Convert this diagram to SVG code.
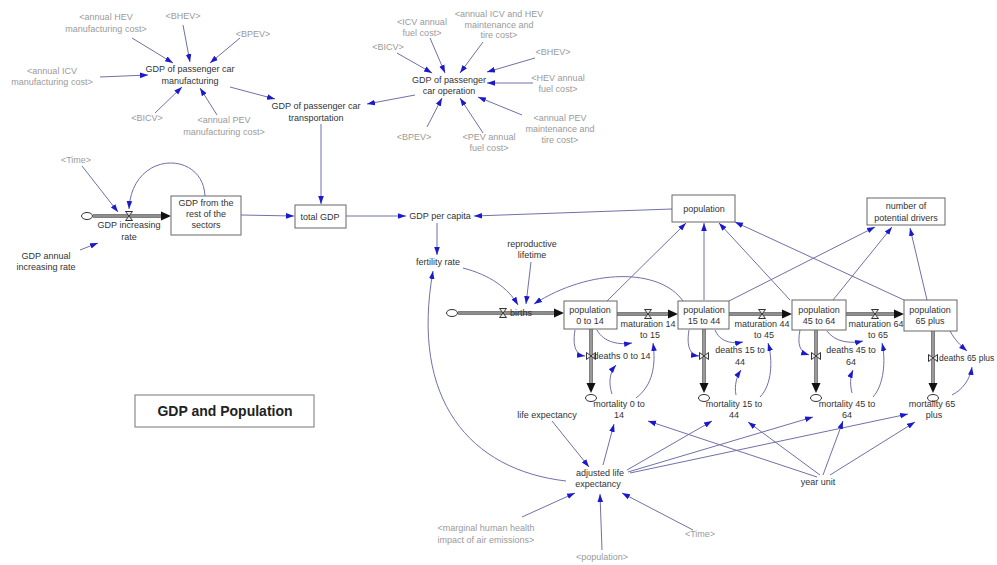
<svg xmlns="http://www.w3.org/2000/svg" width="997" height="565" viewBox="0 0 997 565">
<style>
text{font-family:"Liberation Sans","Open Sans",Arial,sans-serif;font-size:9px;fill:#333;text-anchor:middle}
.g{fill:#9a9a9a}
.s{text-anchor:start}
.c{fill:none;stroke:#7070a8;stroke-width:1;marker-end:url(#a)}
.stock{fill:#fff;stroke:#666;stroke-width:1}
.po{fill:none;stroke:#555;stroke-width:3.5}
.pi{fill:none;stroke:#c8c8c8;stroke-width:1.2}
.fa{fill:#111}
.title{font-size:14px;font-weight:bold;fill:#222}
</style>
<defs>
<marker id="a" viewBox="0 0 10 10" refX="10" refY="5" markerWidth="8" markerHeight="8" markerUnits="userSpaceOnUse" orient="auto"><path d="M0,1.5 L10,5 L0,8.5 Z" fill="#1a1acc"/></marker>
<g id="vh"><path d="M-3.5,-4.5 H3.5 L-3.5,4.5 H3.5 Z" fill="#eee" stroke="#333" stroke-width="1"/></g>
<g id="vv"><path d="M-4.5,-3.5 V3.5 L4.5,-3.5 V3.5 Z" fill="#eee" stroke="#333" stroke-width="1"/></g>
<g id="cl"><ellipse rx="5.5" ry="3.5" fill="#fff" stroke="#333" stroke-width="1"/></g>
</defs>
<rect width="997" height="565" fill="#fff"/>

<g id="connectors">
<path class="c" d="M132,38 L173,63"/>
<path class="c" d="M183,25 L190,62"/>
<path class="c" d="M240,38 L210,63"/>
<path class="c" d="M100,77 L148,75"/>
<path class="c" d="M155,113 L182,87"/>
<path class="c" d="M217,115 L200,88"/>
<path class="c" d="M230,87 L275,99"/>
<path class="c" d="M397,53 L432,73"/>
<path class="c" d="M430,38 L445,73"/>
<path class="c" d="M483,42 L460,73"/>
<path class="c" d="M535,58 L487,72"/>
<path class="c" d="M533,83 L487,83"/>
<path class="c" d="M522,115 L478,97"/>
<path class="c" d="M483,133 L460,98"/>
<path class="c" d="M427,127 L442,98"/>
<path class="c" d="M415,95 L367,104"/>
<path class="c" d="M321,124 L321,204"/>
<path class="c" d="M82,166 L118,212"/>
<path class="c" d="M205,196 C203,150 132,150 129,209"/>
<path class="c" d="M80,250 L98,243"/>
<path class="c" d="M241,215 L294,216"/>
<path class="c" d="M346,216 L406,216"/>
<path class="c" d="M672,209 L474,216"/>
<path class="c" d="M437,223 L437,255"/>
<path class="c" d="M463,268 C490,275 508,288 518,305"/>
<path class="c" d="M531,262 L526,304"/>
<path class="c" d="M683,301 C660,268 590,268 534,304"/>
<path class="c" d="M566,481 C470,470 410,400 433,271"/>
<path class="c" d="M607,301 L686,223"/>
<path class="c" d="M704,300 L704,223"/>
<path class="c" d="M790,300 L719,223"/>
<path class="c" d="M904,300 L735,222"/>
<path class="c" d="M729,301 L875,227"/>
<path class="c" d="M833,300 L892,227"/>
<path class="c" d="M927,300 L910,228"/>
<path class="c" d="M575,330 C572,348 577,355 585,356"/>
<path class="c" d="M597,330 C604,343 620,345 632,343"/>
<path class="c" d="M612,394 C608,382 610,372 616,365"/>
<path class="c" d="M636,398 C653,385 656,365 653,343"/>
<path class="c" d="M689,330 C686,348 691,355 699,356"/>
<path class="c" d="M715,330 C720,342 732,344 743,342"/>
<path class="c" d="M736,395 C734,385 737,376 741,370"/>
<path class="c" d="M760,397 C772,385 773,360 768,343"/>
<path class="c" d="M800,330 C797,345 800,352 809,355"/>
<path class="c" d="M827,331 C835,342 850,344 863,341"/>
<path class="c" d="M852,393 C850,385 850,377 853,370"/>
<path class="c" d="M873,397 C884,385 886,360 882,343"/>
<path class="c" d="M950,331 C955,340 960,345 967,351"/>
<path class="c" d="M952,395 C962,390 970,380 972,367"/>
<path class="c" d="M552,421 L589,467"/>
<path class="c" d="M522,517 L575,493"/>
<path class="c" d="M602,550 L600,494"/>
<path class="c" d="M693,530 L622,493"/>
<path class="c" d="M603,465 L614,424"/>
<path class="c" d="M627,470 L712,421"/>
<path class="c" d="M628,472 L813,417"/>
<path class="c" d="M630,473 L908,414"/>
<path class="c" d="M817,477 L648,421"/>
<path class="c" d="M820,475 L748,422"/>
<path class="c" d="M823,475 L843,421"/>
<path class="c" d="M830,475 L915,422"/>
</g>

<g id="flows">
<path class="po" d="M93,216 H162"/><path class="pi" d="M93,216 H162"/><polygon class="fa" points="171,216 161,211.5 161,220.5"/>
<path class="po" d="M458,313 H555"/><path class="pi" d="M458,313 H555"/><polygon class="fa" points="564,313 554,308.5 554,317.5"/>
<path class="po" d="M617,314 H669"/><path class="pi" d="M617,314 H669"/><polygon class="fa" points="678,314 668,309.5 668,318.5"/>
<path class="po" d="M729,314 H783"/><path class="pi" d="M729,314 H783"/><polygon class="fa" points="792,314 782,309.5 782,318.5"/>
<path class="po" d="M846,314 H895"/><path class="pi" d="M846,314 H895"/><polygon class="fa" points="904,314 894,309.5 894,318.5"/>
<path class="po" d="M591,329 V384"/><path class="pi" d="M591,329 V384"/><polygon class="fa" points="591,393 586.5,383 595.5,383"/>
<path class="po" d="M704,329 V384"/><path class="pi" d="M704,329 V384"/><polygon class="fa" points="704,393 699.5,383 708.5,383"/>
<path class="po" d="M816,330 V384"/><path class="pi" d="M816,330 V384"/><polygon class="fa" points="816,393 811.5,383 820.5,383"/>
<path class="po" d="M933,331 V384"/><path class="pi" d="M933,331 V384"/><polygon class="fa" points="933,393 928.5,383 937.5,383"/>
<use href="#cl" x="87" y="216"/>
<use href="#cl" x="452" y="313"/>
<use href="#cl" x="591" y="398"/>
<use href="#cl" x="704" y="398"/>
<use href="#cl" x="816" y="398"/>
<use href="#cl" x="933" y="398"/>
</g>

<g id="annual_hev_man"><text class="g" x="106" y="20">&lt;annual HEV</text><text class="g" x="106" y="32">manufacturing cost&gt;</text></g>
<g id="bhev1"><text class="g" x="183" y="19">&lt;BHEV&gt;</text></g>
<g id="bpev1"><text class="g" x="253" y="37">&lt;BPEV&gt;</text></g>
<g id="annual_icv_man"><text class="g" x="52" y="74">&lt;annual ICV</text><text class="g" x="52" y="85">manufacturing cost&gt;</text></g>
<g id="gdp_man"><text x="190" y="72">GDP of passenger car</text><text x="190" y="84">manufacturing</text></g>
<g id="bicv1"><text class="g" x="147" y="121">&lt;BICV&gt;</text></g>
<g id="annual_pev_man"><text class="g" x="224" y="123">&lt;annual PEV</text><text class="g" x="224" y="135">manufacturing cost&gt;</text></g>
<g id="gdp_trans"><text x="316" y="109">GDP of passenger car</text><text x="316" y="121">transportation</text></g>

<g id="icv_fuel"><text class="g" x="422" y="25">&lt;ICV annual</text><text class="g" x="422" y="36">fuel cost&gt;</text></g>
<g id="icv_hev_maint"><text class="g" x="499" y="17">&lt;annual ICV and HEV</text><text class="g" x="499" y="28">maintenance and</text><text class="g" x="499" y="38">tire cost&gt;</text></g>
<g id="bicv2"><text class="g" x="388" y="50">&lt;BICV&gt;</text></g>
<g id="bhev2"><text class="g" x="553" y="55">&lt;BHEV&gt;</text></g>
<g id="hev_fuel"><text class="g" x="558" y="81">&lt;HEV annual</text><text class="g" x="558" y="92">fuel cost&gt;</text></g>
<g id="gdp_op"><text x="449" y="83">GDP of passenger</text><text x="449" y="94">car operation</text></g>
<g id="pev_maint"><text class="g" x="560" y="121">&lt;annual PEV</text><text class="g" x="560" y="132">maintenance and</text><text class="g" x="560" y="143">tire cost&gt;</text></g>
<g id="pev_fuel"><text class="g" x="489" y="140">&lt;PEV annual</text><text class="g" x="489" y="151">fuel cost&gt;</text></g>
<g id="bpev2"><text class="g" x="414" y="140">&lt;BPEV&gt;</text></g>

<g id="time1"><text class="g" x="76" y="163">&lt;Time&gt;</text></g>
<g id="gdp_rate"><use href="#vh" x="129" y="216"/><text x="129" y="228">GDP increasing</text><text x="129" y="240">rate</text></g>
<g id="gdp_rest"><rect class="stock" x="171" y="196" width="70" height="39"/><text x="206" y="206">GDP from the</text><text x="206" y="217">rest of the</text><text x="206" y="228">sectors</text></g>
<g id="gdp_annual"><text x="46" y="259">GDP annual</text><text x="46" y="270">increasing rate</text></g>
<g id="total_gdp"><rect class="stock" x="295" y="205" width="51" height="23"/><text x="320" y="220">total GDP</text></g>
<g id="gdp_pc"><text x="440" y="219">GDP per capita</text></g>
<g id="fertility"><text x="438" y="265">fertility rate</text></g>
<g id="repro"><text x="532" y="247">reproductive</text><text x="532" y="258">lifetime</text></g>
<g id="births"><use href="#vh" x="503" y="313"/><text x="521" y="316">births</text></g>
<g id="population"><rect class="stock" x="672" y="195" width="63" height="27"/><text x="704" y="212">population</text></g>
<g id="drivers"><rect class="stock" x="867" y="198" width="78" height="27"/><text x="906" y="209">number of</text><text x="906" y="221">potential drivers</text></g>
<g id="pop0"><rect class="stock" x="564" y="301" width="53" height="28"/><text x="590" y="313">population</text><text x="590" y="324">0 to 14</text></g>
<g id="pop15"><rect class="stock" x="678" y="301" width="51" height="28"/><text x="704" y="313">population</text><text x="704" y="324">15 to 44</text></g>
<g id="pop45"><rect class="stock" x="792" y="300" width="54" height="30"/><text x="819" y="313">population</text><text x="819" y="324">45 to 64</text></g>
<g id="pop65"><rect class="stock" x="904" y="300" width="53" height="31"/><text x="930" y="313">population</text><text x="930" y="324">65 plus</text></g>

<g id="mat14"><use href="#vh" x="648" y="314"/><text x="648" y="327">maturation 14</text><text x="650" y="338">to 15</text></g>
<g id="mat44"><use href="#vh" x="762" y="314"/><text x="762" y="327">maturation 44</text><text x="764" y="338">to 45</text></g>
<g id="mat64"><use href="#vh" x="875" y="314"/><text x="876" y="327">maturation 64</text><text x="878" y="338">to 65</text></g>

<g id="deaths0"><use href="#vv" x="591" y="356"/><text x="622" y="359">deaths 0 to 14</text></g>
<g id="deaths15"><use href="#vv" x="704" y="356"/><text x="740" y="353">deaths 15 to</text><text x="740" y="365">44</text></g>
<g id="deaths45"><use href="#vv" x="816" y="356"/><text x="851" y="353">deaths 45 to</text><text x="851" y="365">64</text></g>
<g id="deaths65"><use href="#vv" x="933" y="358"/><text class="s" x="939" y="361" style="font-size:8.5px">deaths 65 plus</text></g>

<g id="mort0"><text x="619" y="407">mortality 0 to</text><text x="619" y="418">14</text></g>
<g id="mort15"><text x="734" y="407">mortality 15 to</text><text x="734" y="418">44</text></g>
<g id="mort45"><text x="847" y="407">mortality 45 to</text><text x="847" y="418">64</text></g>
<g id="mort65"><text x="932" y="407">mortality 65</text><text x="934" y="418">plus</text></g>

<g id="life_exp"><text x="547" y="418">life expectancy</text></g>
<g id="adj_life"><text x="600" y="476">adjusted life</text><text x="598" y="487">expectancy</text></g>
<g id="marginal"><text class="g" x="486" y="531">&lt;marginal human health</text><text class="g" x="486" y="543">impact of air emissions&gt;</text></g>
<g id="population2"><text class="g" x="602" y="560">&lt;population&gt;</text></g>
<g id="time2"><text class="g" x="700" y="537">&lt;Time&gt;</text></g>
<g id="year_unit"><text x="818" y="485">year unit</text></g>

<g id="title"><rect x="135" y="395" width="179" height="32" fill="#fff" stroke="#777" stroke-width="1"/><text class="title" x="225" y="416">GDP and Population</text></g>
</svg>
